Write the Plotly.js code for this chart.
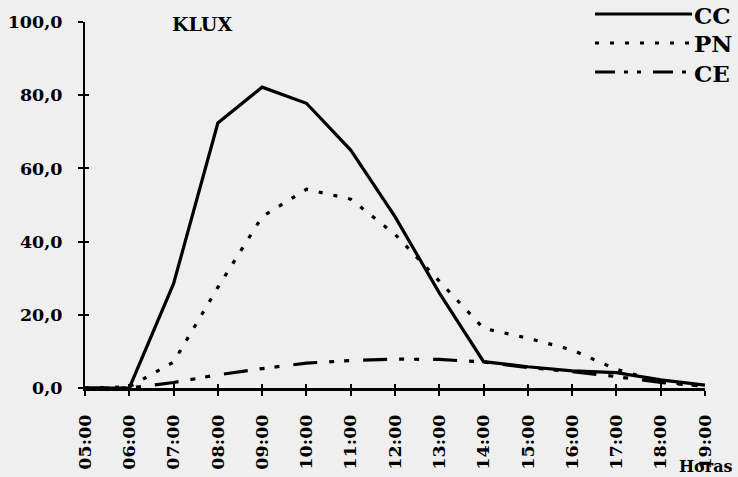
<!DOCTYPE html>
<html>
<head>
<meta charset="utf-8">
<script src="https://cdn.plot.ly/plotly-3.0.1.min.js"></script>
<style>
html,body{margin:0;padding:0;background:#efefef;}
#chart{width:738px;height:477px;}
</style>
</head>
<body>
<div id="chart"></div>
<script>
// ---- data ----
const hours = ["05:00","06:00","07:00","08:00","09:00","10:00","11:00","12:00","13:00","14:00","15:00","16:00","17:00","18:00","19:00"];
const seriesNames = ["CC","PN","CE"];
const ccValues = [0, 0, 28.5, 72.4, 82.2, 77.8, 65.0, 46.8, 26.0, 7.2, 5.8, 4.7, 4.2, 2.2, 0.8];
const pnValues = [0, 0.3, 7.1, 27.5, 46.8, 54.3, 51.6, 42.0, 29.2, 16.3, 13.6, 10.4, 5.1, 1.7, 0.5];
const ceValues = [0, 0, 1.5, 3.6, 5.3, 6.8, 7.5, 7.9, 7.8, 7.1, 5.6, 4.5, 3.1, 1.5, 0.5];
const yTickValues = [0, 20, 40, 60, 80, 100];
const yTickLabels = ["0,0", "20,0", "40,0", "60,0", "80,0", "100,0"];
const chartLabel = "KLUX";
const xAxisLabel = "Horas";

// ---- styles ----
const FONT = "DejaVu Serif";
const dashes = ["solid", "4px,11px", "24px,12px,5px,10px,5px,14px"];
const legendDashes = ["solid", "4px,11px", "20px,9px,4px,9px,4px,12px"];
const seriesValues = [ccValues, pnValues, ceValues];
// the CE series is drawn on the twin axes (same ranges) so those axes can add the inward tick halves
const axisPairs = [["x", "y"], ["x", "y"], ["x2", "y2"]];

const traces = seriesValues.map((vals, i) => ({
  type: "scatter",
  mode: "lines",
  x: hours,
  y: vals,
  name: seriesNames[i],
  xaxis: axisPairs[i][0],
  yaxis: axisPairs[i][1],
  line: {color: "#000", width: 3.2, dash: dashes[i]},
  cliponaxis: false,
  hoverinfo: "skip"
}));

const L = 85, R = 705, T = 22, B = 388;
const px = x => (x - L) / (R - L);
const py = y => (B - y) / (B - T);

const legendY = [14, 43, 72];
const shapes = [];
const annotations = [];
seriesNames.forEach((n, i) => {
  shapes.push({type: "line", xref: "paper", yref: "paper",
    x0: px(595), x1: px(692), y0: py(legendY[i]), y1: py(legendY[i]),
    line: {color: "#000", width: 3, dash: legendDashes[i]}});
  annotations.push({xref: "paper", yref: "paper", x: px(692), y: py(legendY[i] + 1),
    xanchor: "left", yanchor: "middle", showarrow: false, text: n,
    font: {family: FONT, size: 23, weight: "bold", color: "#000"}});
});
annotations.push({xref: "paper", yref: "paper", x: px(202), y: py(24),
  xanchor: "center", yanchor: "middle", showarrow: false, text: chartLabel,
  font: {family: FONT, size: 19, weight: "bold", color: "#000"}});
annotations.push({xref: "paper", yref: "paper", x: px(677), y: py(467),
  xanchor: "left", yanchor: "middle", showarrow: false, text: xAxisLabel,
  font: {family: FONT, size: 16, weight: "bold", color: "#000"}});

const tickFont = {family: FONT, size: 17.5, weight: "bold", color: "#000"};

const layout = {
  width: 738, height: 477,
  paper_bgcolor: "#efefef", plot_bgcolor: "#efefef",
  margin: {l: L, r: 738 - R, t: T, b: 477 - B},
  showlegend: false,
  xaxis: {
    type: "category", categoryarray: hours, range: [0, 14],
    showline: true, linecolor: "#000", linewidth: 2.5,
    ticks: "outside", ticklen: 5, tickwidth: 2, tickcolor: "#000",
    tickangle: -90, tickfont: tickFont, ticklabelstandoff: 12,
    showgrid: false, zeroline: false, fixedrange: true
  },
  yaxis: {
    range: [0, 100], tickvals: yTickValues, ticktext: yTickLabels,
    showline: true, linecolor: "#000", linewidth: 2,
    ticks: "outside", ticklen: 5, tickwidth: 2, tickcolor: "#000",
    tickfont: tickFont, ticklabelstandoff: 12,
    showgrid: false, zeroline: false, fixedrange: true
  },
  xaxis2: {
    type: "category", categoryarray: hours, range: [0, 14],
    overlaying: "x", anchor: "y2",
    ticks: "inside", ticklen: 4, tickwidth: 2, tickcolor: "#000",
    showticklabels: false, showline: false, showgrid: false, zeroline: false, fixedrange: true
  },
  yaxis2: {
    overlaying: "y", anchor: "x2", side: "left", range: [0, 100], tickvals: yTickValues,
    ticks: "inside", ticklen: 4, tickwidth: 2, tickcolor: "#000",
    showticklabels: false, showline: false, showgrid: false, zeroline: false, fixedrange: true
  },
  shapes: shapes,
  annotations: annotations
};

Plotly.newPlot("chart", traces, layout, {staticPlot: true, displayModeBar: false});
</script>
</body>
</html>
